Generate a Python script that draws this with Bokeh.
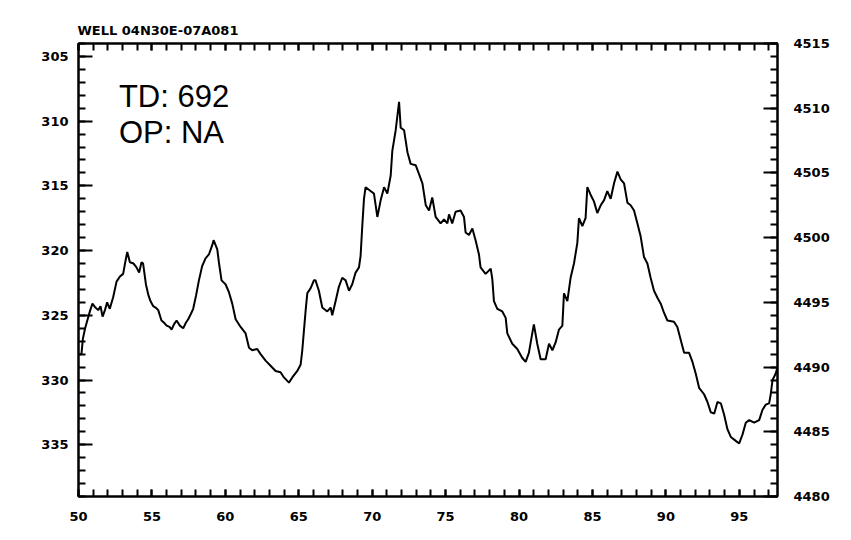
from bokeh.plotting import figure
from bokeh.models import Range1d, LinearAxis, SingleIntervalTicker, Label
from bokeh.embed import file_html
from bokeh.resources import INLINE

# ---- data ----
years = [50.0, 50.2, 50.3, 50.45, 50.6, 50.8, 50.95, 51.15, 51.34, 51.5, 51.64, 51.8, 51.95, 52.13,
         52.36, 52.59, 52.82, 53.04, 53.2, 53.32, 53.5, 53.75, 53.95, 54.13, 54.29, 54.4, 54.59, 54.75,
         54.9, 55.09, 55.25, 55.43, 55.65, 55.85, 56.0, 56.2, 56.34, 56.5, 56.68, 56.9, 57.13, 57.3,
         57.47, 57.65, 57.81, 58.0, 58.2, 58.42, 58.65, 58.88, 59.1, 59.2, 59.45, 59.56, 59.74, 60.01,
         60.24, 60.47, 60.7, 61.04, 61.38, 61.61, 61.83, 62.17, 62.4, 62.74, 63.08, 63.42, 63.76, 63.99,
         64.33, 64.56, 64.9, 65.13, 65.24, 65.35, 65.47, 65.58, 65.81, 66.03, 66.14, 66.37, 66.6, 66.94,
         67.17, 67.28, 67.51, 67.73, 67.96, 68.19, 68.42, 68.64, 68.87, 69.1, 69.21, 69.32, 69.44, 69.55,
         69.89, 70.12, 70.35, 70.58, 70.81, 71.03, 71.26, 71.37, 71.6, 71.83, 71.94, 72.17, 72.4, 72.62,
         72.96, 73.19, 73.42, 73.65, 73.87, 74.09, 74.32, 74.66, 74.89, 75.12, 75.23, 75.45, 75.68, 76.02,
         76.25, 76.36, 76.59, 76.82, 77.04, 77.27, 77.38, 77.72, 78.07, 78.18, 78.29, 78.52, 78.86, 79.09,
         79.2, 79.54, 79.88, 80.22, 80.45, 80.67, 80.9, 81.01, 81.24, 81.47, 81.81, 82.04, 82.27, 82.49,
         82.72, 82.95, 83.06, 83.29, 83.51, 83.74, 83.97, 84.08, 84.31, 84.53, 84.65, 84.88, 85.1, 85.33,
         85.56, 85.79, 86.01, 86.24, 86.47, 86.7, 86.92, 87.15, 87.38, 87.6, 87.83, 88.06, 88.28, 88.51,
         88.74, 88.96, 89.19, 89.45, 89.65, 89.87, 90.1, 90.55, 90.78, 91.01, 91.24, 91.58, 91.81, 92.03,
         92.26, 92.6, 92.83, 93.06, 93.29, 93.51, 93.74, 93.97, 94.19, 94.42, 94.76, 94.99, 95.22, 95.44,
         95.67, 96.01, 96.35, 96.58, 96.8, 97.03, 97.14, 97.26, 97.48, 97.6]

depth = [328.0, 328.0, 326.8, 326.0, 325.4, 324.6, 324.1, 324.4, 324.6, 324.3, 325.1, 324.6, 324.0, 324.5,
         323.6, 322.4, 322.0, 321.8, 320.8, 320.1, 320.9, 321.0, 321.3, 321.7, 320.9, 321.0, 322.6, 323.4,
         323.9, 324.3, 324.4, 324.6, 325.4, 325.6, 325.8, 325.9, 326.1, 325.7, 325.4, 325.8, 326.0, 325.6,
         325.3, 324.9, 324.5, 323.5, 322.3, 321.2, 320.6, 320.3, 319.6, 319.2, 319.9, 320.9, 322.3, 322.6,
         323.2, 324.1, 325.3, 325.9, 326.4, 327.5, 327.7, 327.6, 328.0, 328.5, 328.9, 329.3, 329.4, 329.8,
         330.2, 329.8, 329.3, 328.8, 327.7, 326.2, 324.6, 323.3, 322.9, 322.3, 322.3, 323.1, 324.4, 324.7,
         324.4, 325.0, 323.9, 322.8, 322.1, 322.3, 323.1, 322.6, 321.7, 321.3, 320.4, 318.2, 316.0, 315.1,
         315.4, 315.6, 317.4, 316.1, 315.1, 315.6, 314.2, 312.3, 310.7, 308.5, 310.5, 310.7, 312.4, 313.3,
         313.4, 314.1, 314.8, 316.5, 316.9, 315.9, 317.4, 317.9, 317.6, 317.9, 317.2, 317.9, 317.0, 316.9,
         317.4, 318.6, 318.8, 318.3, 319.2, 320.3, 321.3, 321.8, 321.4, 322.2, 323.9, 324.5, 324.7, 325.2,
         326.4, 327.2, 327.6, 328.3, 328.6, 327.9, 326.4, 325.7, 327.2, 328.4, 328.4, 327.2, 327.7, 327.1,
         326.1, 325.8, 323.3, 323.9, 322.1, 321.0, 319.4, 317.5, 318.1, 317.5, 315.1, 315.7, 316.2, 317.1,
         316.5, 316.1, 315.4, 316.0, 314.8, 313.9, 314.5, 314.8, 316.3, 316.5, 316.9, 317.9, 318.9, 320.5,
         321.0, 322.1, 323.1, 323.7, 324.1, 324.8, 325.4, 325.5, 325.9, 326.9, 327.9, 327.9, 328.6, 329.5,
         330.6, 331.1, 331.7, 332.5, 332.6, 331.7, 331.8, 332.7, 333.8, 334.4, 334.7, 334.9, 334.2, 333.3,
         333.1, 333.3, 333.1, 332.3, 331.9, 331.8, 331.1, 330.0, 329.5, 329.0]

x_limits = [50, 97.6]
depth_limits = [339, 304]          # inverted: deeper at the bottom
elev_limits = [4480, 4515]
well_name = "WELL 04N30E-07A081"
info_lines = ["TD: 692", "OP: NA"]

TICK_FONT = "DejaVu Sans"

p = figure(width=851, height=540, output_backend="svg", toolbar_location=None,
           x_range=Range1d(*x_limits), y_range=Range1d(*depth_limits),
           min_border_left=78, min_border_right=74, min_border_top=43, min_border_bottom=44,
           title=well_name)
p.background_fill_color = "white"
p.border_fill_color = "white"
p.xgrid.visible = False
p.ygrid.visible = False
p.outline_line_color = "black"
p.outline_line_width = 2

p.title.align = "left"
p.title.offset = -1
p.title.standoff = 11
p.title.text_font = TICK_FONT
p.title.text_font_size = "13px"
p.title.text_font_style = "bold"
p.title.text_color = "black"

p.extra_y_ranges = {"elev": Range1d(*elev_limits)}


def style(ax, major_in, minor_in, standoff, show_labels=True):
    ax.ticker = SingleIntervalTicker(interval=5, num_minor_ticks=5)
    ax.major_tick_in = major_in
    ax.major_tick_out = 0
    ax.minor_tick_in = minor_in
    ax.minor_tick_out = 0
    ax.axis_line_color = "black"
    ax.axis_line_width = 2
    ax.major_tick_line_color = "black"
    ax.minor_tick_line_color = "black"
    ax.major_tick_line_width = 2
    ax.minor_tick_line_width = 2
    ax.major_label_standoff = standoff
    ax.major_label_text_font = TICK_FONT
    ax.major_label_text_font_size = "13px" if show_labels else "0px"
    ax.major_label_text_font_style = "bold"
    ax.major_label_text_color = "black" if show_labels else None


style(p.xaxis[0], 7, 7, 15)
style(p.yaxis[0], 14, 7, 10)

top_axis = LinearAxis()
style(top_axis, 7, 7, 0, show_labels=False)
p.add_layout(top_axis, "above")

right_axis = LinearAxis(y_range_name="elev")
style(right_axis, 14, 7, 16)
p.add_layout(right_axis, "right")

p.line(years, depth, line_color="black", line_width=2)

p.add_layout(Label(x=52.75, y=308.1, text=info_lines[0], text_font="Liberation Sans",
                   text_font_size="31px", text_baseline="middle", text_align="left",
                   text_color="black"))
p.add_layout(Label(x=52.75, y=310.9, text=info_lines[1], text_font="Liberation Sans",
                   text_font_size="31px", text_baseline="middle", text_align="left",
                   text_color="black"))

open("out.html", "w").write(file_html(p, INLINE))
